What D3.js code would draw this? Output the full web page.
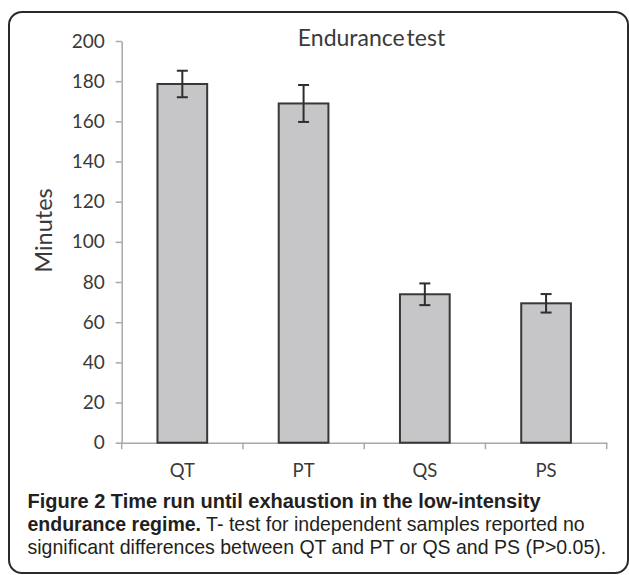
<!DOCTYPE html>
<html>
<head>
<meta charset="utf-8">
<script src="https://cdn.jsdelivr.net/npm/d3@7"></script>
<style>
  html, body { margin: 0; padding: 0; background: #fff; }
  svg { display: block; }
</style>
</head>
<body>
<svg id="chart" width="629" height="575"></svg>
<script>
const categories = ["QT", "PT", "QS", "PS"];
const means = [178.6, 168.9, 73.9, 69.4];
const errors = [6.6, 9.2, 5.4, 4.6];
const yTicks = [0, 20, 40, 60, 80, 100, 120, 140, 160, 180, 200];
const chartTitle = "Endurance test";
const yTitle = "Minutes";
const captionBold1 = "Figure 2 Time run until exhaustion in the low-intensity";
const captionBold2 = "endurance regime.";
const captionRest2 = " T- test for independent samples reported no";
const captionLine3 = "significant differences between QT and PT or QS and PS (P>0.05).";

const data = categories.map((c, i) => ({ cat: c, mean: means[i], err: errors[i] }));

const svg = d3.select("#chart");

// frame
svg.append("rect")
  .attr("x", 9).attr("y", 12).attr("width", 619).attr("height", 561)
  .attr("rx", 13).attr("ry", 13)
  .attr("fill", "#fff").attr("stroke", "#2a2a2a").attr("stroke-width", 2);

const x = d3.scaleBand().domain(categories).range([121.7, 606.7]).padding(0);
const y = d3.scaleLinear().domain([0, 200]).range([442.7, 41]);

const axisColor = "#a8a8a8";
const textColor = "#3a3a3a";

// Y axis
const yAxis = svg.append("g")
  .attr("transform", `translate(${x.range()[0]},0)`)
  .call(d3.axisLeft(y).tickValues(yTicks).tickSizeInner(6).tickSizeOuter(0).tickPadding(11));
yAxis.select(".domain").attr("stroke", axisColor).attr("stroke-width", 1.5);
yAxis.selectAll(".tick line").attr("stroke", axisColor).attr("stroke-width", 1.5);
yAxis.selectAll(".tick text")
  .attr("font-family", "Lato, 'Open Sans', sans-serif")
  .attr("font-size", 19).attr("fill", textColor);

// X axis
const xAxis = svg.append("g")
  .attr("transform", `translate(0,${y(0)})`)
  .call(d3.axisBottom(x).tickSize(0).tickSizeOuter(0).tickPadding(0));
xAxis.select(".domain").attr("stroke", axisColor).attr("stroke-width", 1.5);
xAxis.selectAll(".tick text")
  .attr("y", 34).attr("dy", 0)
  .attr("font-family", "Lato, 'Open Sans', sans-serif")
  .attr("font-size", 18.5).attr("fill", textColor);
// boundary ticks
const bounds = categories.map(c => x(c)).concat([x(categories[categories.length - 1]) + x.bandwidth()]);
xAxis.selectAll(".btick").data(bounds).enter().append("line")
  .attr("class", "btick")
  .attr("x1", d => d).attr("x2", d => d)
  .attr("y1", 0).attr("y2", 6.5)
  .attr("stroke", axisColor).attr("stroke-width", 1.5);

// bars
const barW = x.bandwidth() * 0.41;
svg.append("g").selectAll("rect").data(data).enter().append("rect")
  .attr("x", d => x(d.cat) + x.bandwidth() / 2 - barW / 2)
  .attr("y", d => y(d.mean))
  .attr("width", barW)
  .attr("height", d => y(0) - y(d.mean))
  .attr("fill", "#c6c6c8")
  .attr("stroke", "#383838").attr("stroke-width", 2);

// error bars
const capW = 11;
const eb = svg.append("g").attr("stroke", "#2e2e2e").attr("stroke-width", 2);
data.forEach(d => {
  const cx = x(d.cat) + x.bandwidth() / 2;
  eb.append("line").attr("x1", cx).attr("x2", cx).attr("y1", y(d.mean + d.err)).attr("y2", y(d.mean - d.err));
  eb.append("line").attr("x1", cx - capW / 2).attr("x2", cx + capW / 2).attr("y1", y(d.mean + d.err)).attr("y2", y(d.mean + d.err));
  eb.append("line").attr("x1", cx - capW / 2).attr("x2", cx + capW / 2).attr("y1", y(d.mean - d.err)).attr("y2", y(d.mean - d.err));
});

// chart title
svg.append("text")
  .attr("x", 371.5).attr("y", 45.7)
  .attr("text-anchor", "middle")
  .attr("font-family", "Lato, 'Open Sans', sans-serif")
  .attr("font-size", 23).attr("fill", textColor)
  .attr("word-spacing", -4)
  .text(chartTitle);

// y title
svg.append("text")
  .attr("transform", "translate(52,230.5) rotate(-90)")
  .attr("text-anchor", "middle")
  .attr("font-family", "Lato, 'Open Sans', sans-serif")
  .attr("font-size", 23.5).attr("fill", textColor)
  .text(yTitle);

// caption
const capFont = "'Liberation Sans', Arial, sans-serif";
const capColor = "#231f20";
const l1 = svg.append("text").attr("x", 27.5).attr("y", 507.5)
  .attr("font-family", capFont).attr("font-weight", "bold").attr("font-size", 18)
  .attr("fill", capColor).text(captionBold1);
const l2 = svg.append("text").attr("x", 27.5).attr("y", 530.5)
  .attr("font-family", capFont).attr("font-size", 18).attr("fill", capColor);
l2.append("tspan").attr("font-weight", "bold").text(captionBold2);
l2.append("tspan").text(captionRest2);
const l3 = svg.append("text").attr("x", 27.5).attr("y", 553.5)
  .attr("font-family", capFont).attr("font-size", 18).attr("fill", capColor)
  .text(captionLine3);

// fit caption widths to the reference line lengths
function fit(sel, target) {
  const w = sel.node().getComputedTextLength();
  const fs = parseFloat(sel.attr("font-size"));
  sel.attr("font-size", Math.min(20, fs * target / w).toFixed(2));
}
fit(l1, 517);
fit(l3, 579);
l2.attr("font-size", l3.attr("font-size"));
</script>
</body>
</html>
